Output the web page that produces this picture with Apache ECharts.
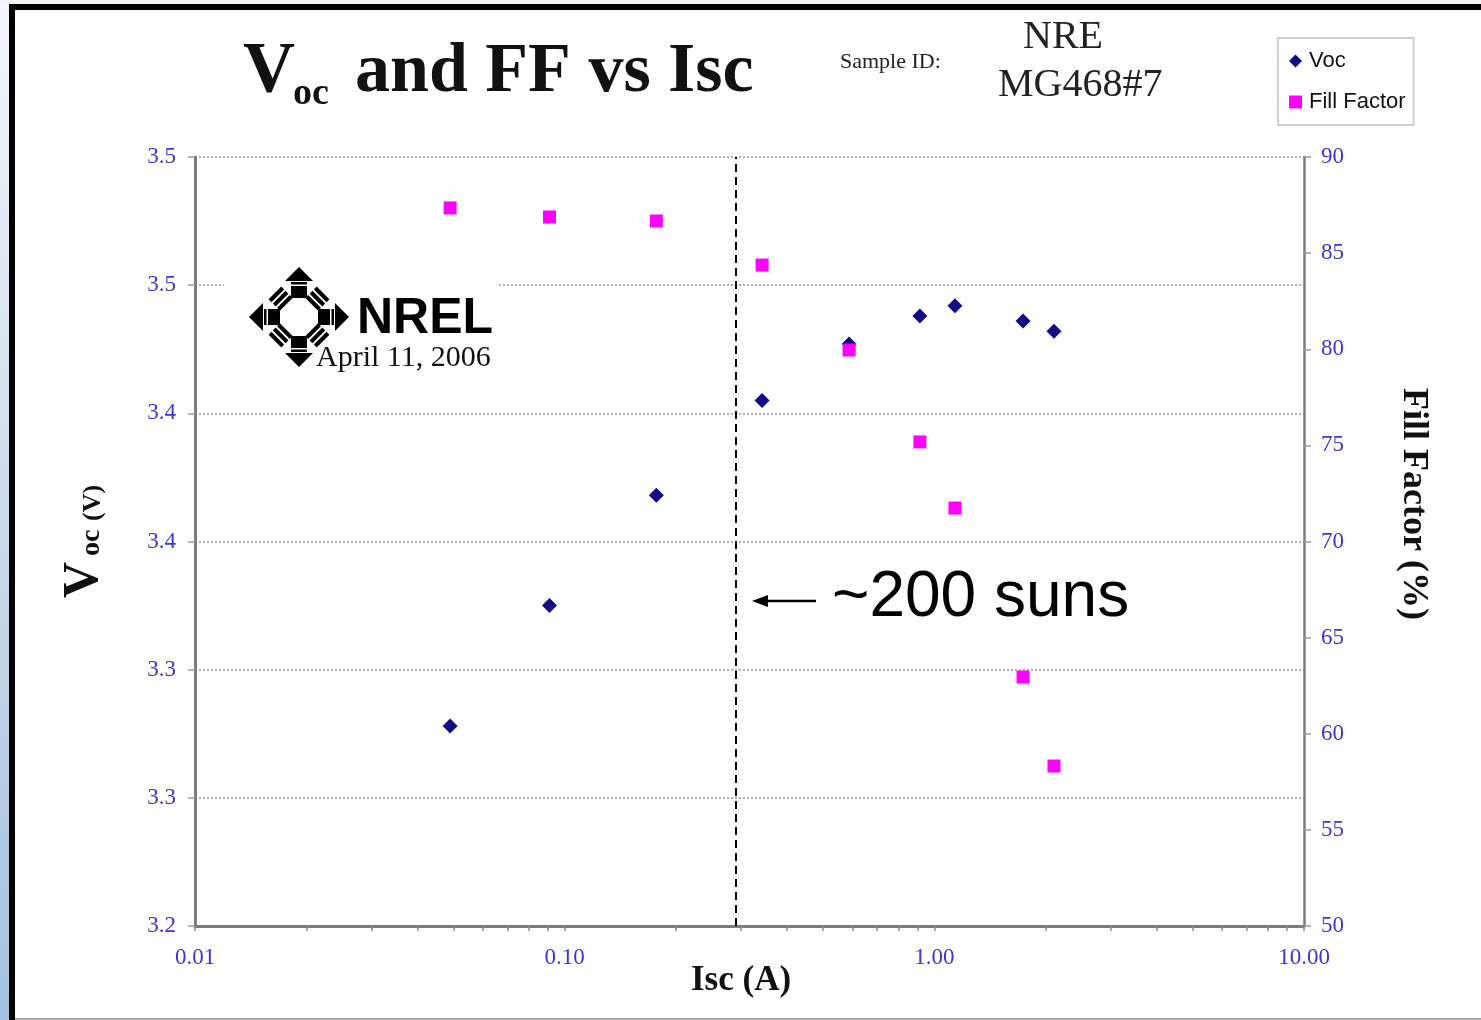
<!DOCTYPE html>
<html>
<head>
<meta charset="utf-8">
<script src="https://cdn.jsdelivr.net/npm/echarts@6/dist/echarts.min.js"></script>
<style>
  html, body { margin: 0; padding: 0; background: #ffffff; }
  #chart { width: 1481px; height: 1020px; }
</style>
</head>
<body>
<div id="chart"></div>
<script>
// Short-circuit current (A) of each measurement, lowest to highest concentration
const iscAmps = [0.049, 0.091, 0.177, 0.342, 0.588, 0.914, 1.137, 1.738, 2.107];
// Open-circuit voltage (V) at each current
const vocVolts = [3.278, 3.325, 3.368, 3.405, 3.427, 3.438, 3.442, 3.436, 3.432];
// Fill factor (%) at each current
const fillFactorPct = [87.35, 86.88, 86.67, 84.38, 79.96, 75.18, 71.74, 62.95, 58.32];

// Log axis: labelled decades and the minor ticks between them
const iscLabelTicks = [0.01, 0.1, 1, 10];
const iscMinorTicks = [0.02, 0.03, 0.04, 0.05, 0.06, 0.07, 0.08, 0.09,
                       0.2, 0.3, 0.4, 0.5, 0.6, 0.7, 0.8, 0.9,
                       2, 3, 4, 5, 6, 7, 8, 9];
// Voltage tick labels (ticks every 0.05 V, shown with one decimal)
const voltTickLabels = ['3.2', '3.3', '3.3', '3.4', '3.4', '3.5', '3.5'];
// Current at which the cell sees roughly 200 suns
const sunsMarkerIsc = 0.29;

const SERIF = "'Liberation Serif', 'Times New Roman', serif";
const SANS = "'Liberation Sans', Arial, Helvetica, sans-serif";
const TICK_BLUE = '#3f35cf';
const AXIS_GREY = '#7c7c7c';
const MID = 0.3375; // em-box middle above the baseline, in em

const chart = echarts.init(document.getElementById('chart'), null, { renderer: 'canvas' });

function textStyle(text, size, opts) {
  return {
    text: text,
    font: (opts.weight || 'normal') + ' ' + size + 'px ' + (opts.family || SERIF),
    fill: opts.color || '#111111',
    align: opts.align || 'left',
    verticalAlign: 'middle',
    textAlign: opts.align || 'left',
    textVerticalAlign: 'middle'
  };
}

// horizontal text placed by its baseline
function textAt(text, x, baseline, size, opts) {
  opts = opts || {};
  return { type: 'text', x: x, y: baseline - MID * size, z: 50, style: textStyle(text, size, opts) };
}

// text reading bottom-to-top; baselineX is where the baseline falls on screen
function textUp(text, baselineX, startY, size, opts) {
  opts = opts || {};
  return { type: 'text', x: baselineX - MID * size, y: startY, rotation: Math.PI / 2, z: 50,
    style: textStyle(text, size, opts) };
}

// NREL emblem: eight spokes around an open ring
function nrelEmblem(cx, cy) {
  const kids = [];
  for (let k = 0; k < 8; k++) {
    const rot = k * Math.PI / 4;
    if (k % 2 === 0) {
      kids.push({ type: 'rect', x: cx, y: cy, rotation: rot, z: 6,
        shape: { x: -8, y: -31, width: 16, height: 12 }, style: { fill: '#000' } });
      kids.push({ type: 'rect', x: cx, y: cy, rotation: rot, z: 6,
        shape: { x: -8, y: -35, width: 16, height: 2.5 }, style: { fill: '#000' } });
      kids.push({ type: 'polygon', x: cx, y: cy, rotation: rot, z: 6,
        shape: { points: [[-14, -36], [14, -36], [0, -50]] }, style: { fill: '#000' } });
    } else {
      for (let s = 0; s < 3; s++) {
        kids.push({ type: 'rect', x: cx, y: cy, rotation: rot, z: 6,
          shape: { x: -9, y: -22 - s * 6, width: 18, height: 4 }, style: { fill: '#000' } });
      }
    }
  }
  return kids;
}

const graphics = [
  // page background, left strip and frame
  { type: 'rect', z: -10, shape: { x: 0, y: 0, width: 1481, height: 1020 }, style: { fill: '#ffffff' } },
  { type: 'rect', z: -9, shape: { x: 0, y: 0, width: 10, height: 1020 },
    style: { fill: new echarts.graphic.LinearGradient(0, 0, 0, 1, [
      { offset: 0, color: '#f3f6fb' }, { offset: 1, color: '#a3c1de' }]) } },
  { type: 'rect', z: -9, shape: { x: 0, y: 0, width: 1481, height: 5 }, style: { fill: '#f1f4f9' } },
  { type: 'rect', z: -8, shape: { x: 9, y: 4, width: 6, height: 1016 }, style: { fill: '#000' } },
  { type: 'rect', z: -8, shape: { x: 9, y: 4, width: 1472, height: 6 }, style: { fill: '#000' } },
  { type: 'rect', z: -8, shape: { x: 15, y: 1018, width: 1466, height: 2 }, style: { fill: '#a8a8a8' } },

  // title with subscript
  textAt('V', 243, 97, 72, { weight: 'bold' }),
  textAt('oc', 293, 107, 38, { weight: 'bold' }),
  textAt('and FF vs Isc', 355, 97, 70, { weight: 'bold' }),

  // sample identification
  textAt('Sample ID:', 840, 70, 22, { color: '#222' }),
  textAt('NRE', 1023, 51, 40, { color: '#222' }),
  textAt('MG468#7', 998, 99, 40, { color: '#222' }),

  // axis titles
  textUp('V', 101, 598, 50, { weight: 'bold' }),
  textUp('oc', 101, 556, 28, { weight: 'bold' }),
  textUp('(V)', 102, 521, 26, { weight: 'bold' }),
  {
    type: 'text', x: 1413, y: 504, rotation: -Math.PI / 2, z: 50,
    style: textStyle('Fill Factor (%)', 36, { weight: 'bold', align: 'center' })
  },
  textAt('Isc (A)', 741, 993, 35, { weight: 'bold', align: 'center' }),

  // NREL mark and date, on a white patch over the plot
  { type: 'rect', z: 5, shape: { x: 224, y: 262, width: 274, height: 116 }, style: { fill: '#ffffff' } },
  ...nrelEmblem(299, 317),
  {
    type: 'text', x: 357, y: 319, z: 7,
    style: textStyle('NREL', 50, { weight: '900', family: SANS, color: '#000' })
  },
  textAt('April 11, 2006', 316, 368, 30, { color: '#111' }),

  // ~200 suns call-out
  { type: 'line', z: 50, shape: { x1: 764, y1: 601, x2: 816, y2: 601 }, style: { stroke: '#000', lineWidth: 2.5 } },
  { type: 'polygon', z: 50, shape: { points: [[752, 601], [768, 595], [768, 607]] }, style: { fill: '#000' } },
  textAt('~200 suns', 832, 620, 64, { family: SANS, color: '#000' })
];

const option = {
  animation: false,
  backgroundColor: '#ffffff',
  grid: { left: 195, right: 177, top: 157, bottom: 94 },
  legend: {
    data: ['Voc', 'Fill Factor'],
    orient: 'vertical',
    left: 1278,
    top: 38,
    padding: [12, 8, 12, 11],
    itemGap: 19,
    itemWidth: 13,
    itemHeight: 13,
    backgroundColor: '#ffffff',
    borderColor: '#cfcfcf',
    borderWidth: 2,
    textStyle: { fontFamily: SANS, fontSize: 22, color: '#111', padding: [0, 0, 0, 2] }
  },
  xAxis: {
    type: 'log',
    logBase: 10,
    min: 0.01,
    max: 10,
    axisLine: { show: true, lineStyle: { color: AXIS_GREY, width: 3 } },
    axisTick: {
      show: true, length: 5,
      customValues: iscLabelTicks.concat(iscMinorTicks),
      lineStyle: { color: '#8a8a8a', width: 1.5 }
    },
    axisLabel: {
      customValues: iscLabelTicks,
      formatter: v => Number(v).toFixed(2),
      color: TICK_BLUE, fontFamily: SERIF, fontSize: 23, margin: 20
    },
    splitLine: { show: false }
  },
  yAxis: [
    {
      type: 'value',
      min: 3.2, max: 3.5, interval: 0.05,
      position: 'left',
      axisLine: { show: true, lineStyle: { color: AXIS_GREY, width: 3 } },
      axisTick: { show: true, length: 7, lineStyle: { color: '#9a9a9a', width: 1.5 } },
      axisLabel: {
        formatter: (v, i) => voltTickLabels[i],
        color: TICK_BLUE, fontFamily: SERIF, fontSize: 23, margin: 19
      },
      splitLine: { show: true, lineStyle: { color: '#959595', type: [2, 2], width: 1.5 } }
    },
    {
      type: 'value',
      min: 50, max: 90, interval: 5,
      position: 'right',
      axisLine: { show: true, lineStyle: { color: AXIS_GREY, width: 2.5 } },
      axisTick: { show: true, length: 7, lineStyle: { color: '#9a9a9a', width: 1.5 } },
      axisLabel: { color: TICK_BLUE, fontFamily: SERIF, fontSize: 23, margin: 17 },
      splitLine: { show: false }
    }
  ],
  series: [
    {
      name: 'Voc',
      type: 'scatter',
      yAxisIndex: 0,
      symbol: 'diamond',
      symbolSize: 15,
      itemStyle: { color: '#120c86', opacity: 1 },
      data: iscAmps.map((x, i) => [x, vocVolts[i]]),
      markLine: {
        silent: true,
        symbol: ['none', 'none'],
        label: { show: false },
        lineStyle: { color: '#000', type: [8, 5], width: 2 },
        data: [{ xAxis: sunsMarkerIsc }]
      }
    },
    {
      name: 'Fill Factor',
      type: 'scatter',
      yAxisIndex: 1,
      symbol: 'rect',
      symbolSize: 13,
      itemStyle: { color: '#ff00ff', opacity: 1 },
      data: iscAmps.map((x, i) => [x, fillFactorPct[i]])
    }
  ],
  graphic: { elements: graphics }
};

chart.setOption(option);
</script>
</body>
</html>
